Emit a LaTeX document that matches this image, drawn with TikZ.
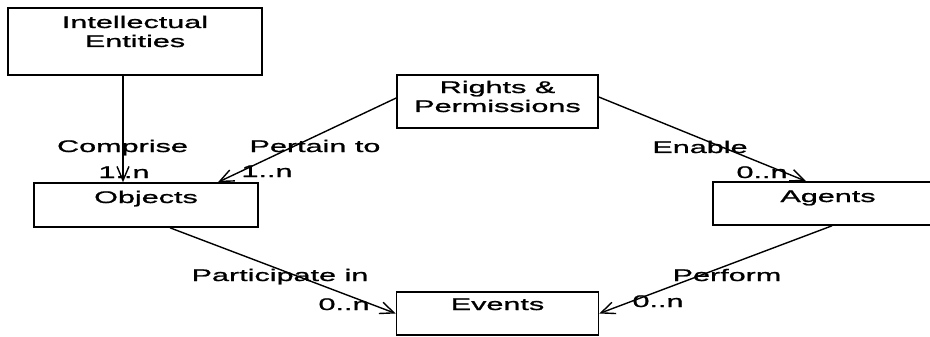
\documentclass[tikz,border=0pt]{standalone}
\usepackage{fontspec}
\setmainfont{Liberation Sans}[FakeStretch=1.82, FakeBold=1.2]
\usepackage{tikz}
\usetikzlibrary{positioning, arrows.meta}
\tikzset{
  entity/.style={rectangle, draw, line width=1.6pt, inner sep=0pt, align=center},
  rel/.style={-{Straight Barb[length=14pt, width=12pt]}, line width=1.4pt},
  lbl/.style={anchor=base, inner sep=0pt}
}

\begin{document}
\begin{tikzpicture}[x=1pt, y=-1pt, font=\fontsize{16.8}{19}\selectfont]
    \useasboundingbox (0,0) rectangle (930,337);
    \clip (0,0) rectangle (930,337);
    \node (intent)  at (135,47)    [entity, anchor=base, minimum width=254pt, text height=39pt, text depth=28pt] {Intellectual\\Entities};
    \node (rights)  at (497.5,112) [entity, anchor=base, minimum width=201pt, text height=37pt, text depth=16pt] {Rights \&\\Permissions};
    \node (objects) at (146,203)   [entity, anchor=base, minimum width=224pt, text height=20pt, text depth=24pt] {Objects};
    \node (agents)  at (828,202)   [entity, anchor=base, minimum width=230pt, text height=20pt, text depth=23pt] {Agents};
    \node (events)  at (497.5,310) [entity, anchor=base, minimum width=202pt, text height=18pt, text depth=25pt] {Events};
    \draw[rel] ([xshift=-12pt]intent.south) -- ([xshift=-23pt]objects.north);
    \draw[rel] ([yshift=3.5pt]rights.west) -- ([xshift=72pt]objects.north);
    \draw[rel] ([yshift=4.5pt]rights.east) -- ([xshift=-22pt]agents.north);
    \draw[rel] ([xshift=24pt]objects.south) -- (events.west);
    \draw[rel] ([xshift=4pt]agents.south) -- (events.east);
    \node (comprise)  at (122.5,152) [lbl] {Comprise};
    \node (compriseM) at (124,178)   [lbl] {1..n};
    \node (pertain)   at (315,152)   [lbl] {Pertain to};
    \node (pertainM)  at (267,177)   [lbl] {1..n};
    \node (enable)    at (700,153)   [lbl] {Enable};
    \node (enableM)   at (762,178)   [lbl] {0..n};
    \node (particip)  at (280,281)   [lbl] {Participate in};
    \node (participM) at (344,310)   [lbl] {0..n};
    \node (perform)   at (727,281)   [lbl] {Perform};
    \node (performM)  at (658,307)   [lbl] {0..n};
\end{tikzpicture}
\end{document}
